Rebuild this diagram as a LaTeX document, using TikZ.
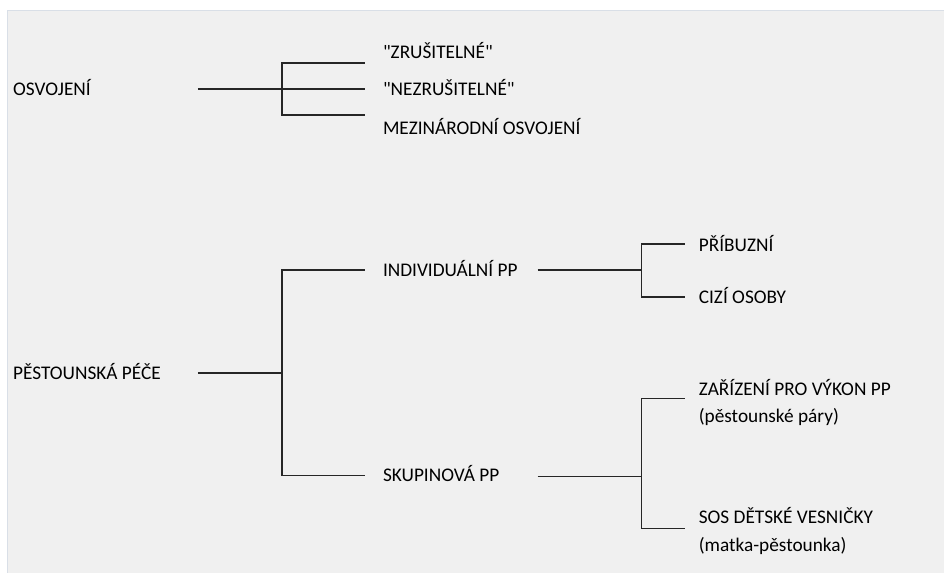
\documentclass[tikz,border=0pt]{standalone}
\usepackage{fontspec}
\setmainfont{Carlito}
\usetikzlibrary{positioning,calc}

\definecolor{panelgray}{HTML}{F0F0F0}
\definecolor{panelframe}{HTML}{D9DFE7}

\tikzset{
    item/.style={anchor=base west, inner sep=0pt, text=black, font=\fontsize{19.3}{26}\selectfont},
    branch/.style={draw=black!85, line width=1.4pt},
}

\begin{document}
\begin{tikzpicture}[x=1pt, y=-1pt]
        % Window background
        \fill[white] (0,0) rectangle (944,573);
        \fill[panelgray] (8,11) rectangle (944,573);
        \draw[panelframe, line width=1pt] (8,573) -- (8,11) -- (944,11);
        \useasboundingbox (0,0) rectangle (944,573);



        % Draw adoption
        \node[item] (osv) at (13, 95.2) {OSVOJENÍ};

        \coordinate (OSV_OUT) at (198, 89);
        \coordinate (OSV_FORK) at (282, 89);
        \coordinate (osv_a) at (365, 63);
        \coordinate (osv_b) at (365, 89);
        \coordinate (osv_c) at (365, 115);

        \node[item] (zrus) at (383, 58.2) {\textquotedbl ZRUŠITELNÉ\textquotedbl};
        \node[item] (nezrus) at (383, 95.2) {\textquotedbl NEZRUŠITELNÉ\textquotedbl};
        \node[item] (mezin) at (383, 134.2) {MEZINÁRODNÍ OSVOJENÍ};

        \draw[branch] (OSV_OUT) -- (osv_b);
        \draw[branch] (osv_a) -| (OSV_FORK) |- (osv_c);




        % Draw foster care
        \node[item] (pp) at (13, 379.2) {PĚSTOUNSKÁ PÉČE};

        \coordinate (PP_OUT) at (198, 373);
        \coordinate (PP_FORK) at (282, 373);
        \coordinate (pp_a) at (365, 270);
        \coordinate (pp_b) at (365, 476);

        \node[item] (indiv) at (383, 276.2) {INDIVIDUÁLNÍ PP};
        \node[item] (skup) at (383, 482.2) {SKUPINOVÁ PP};

        \draw[branch] (PP_OUT) -- (PP_FORK);
        \draw[branch] (pp_a) -| (PP_FORK) |- (pp_b);



        % Individual foster care
        \coordinate (IND_OUT) at (538, 270);
        \coordinate (IND_FORK) at (642, 270);
        \coordinate (ind_a) at (685, 244);
        \coordinate (ind_b) at (685, 297);

        \node[item] (pribuz) at (699, 251.2) {PŘÍBUZNÍ};
        \node[item] (cizi) at (699, 303.2) {CIZÍ OSOBY};

        \draw[branch] (IND_OUT) -- (IND_FORK);
        \draw[branch] (ind_a) -| (IND_FORK) |- (ind_b);



        % Group foster care
        \coordinate (SKU_OUT) at (538, 477);
        \coordinate (SKU_FORK) at (642, 477);
        \coordinate (sku_a) at (685, 399);
        \coordinate (sku_b) at (685, 529);

        \node[item] (zariz) at (699, 396.2) {ZAŘÍZENÍ PRO VÝKON PP};
        \node[item] (zariz2) at ($(zariz.base west) + (0, 26.5)$) {(pěstounské páry)};
        \node[item] (sos) at (699, 524.2) {SOS DĚTSKÉ VESNIČKY};
        \node[item] (sos2) at ($(sos.base west) + (0, 27.5)$) {(matka-pěstounka)};

        \draw[branch] (SKU_OUT) -- (SKU_FORK);
        \draw[branch] (sku_a) -| (SKU_FORK) |- (sku_b);

\end{tikzpicture}
\end{document}
